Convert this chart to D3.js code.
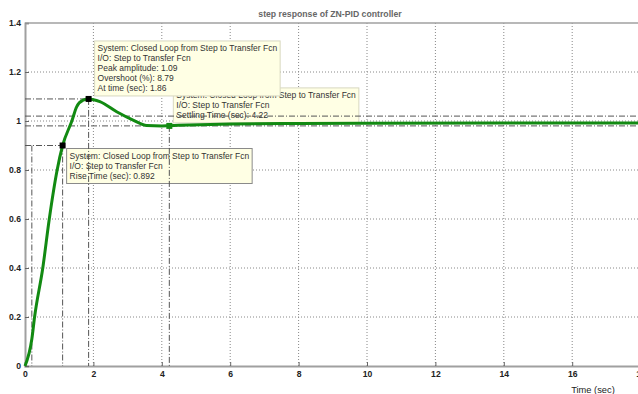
<!DOCTYPE html>
<html>
<head>
<meta charset="utf-8">
<script src="https://cdn.jsdelivr.net/npm/d3@7"></script>
<style>
  body { margin: 0; background: #fff; }
  text { font-family: "Liberation Sans", Arial, sans-serif; }
</style>
</head>
<body>
<script>
var width = 638, height = 394

// step response samples
var timeSec = [0, 0.2, 0.28, 0.52, 0.71, 0.94, 1.1, 1.37, 1.51, 1.7, 1.86, 2.19, 2.68, 3.16, 3.56, 4.0, 4.22, 4.8, 6, 8, 10, 14, 20]
var amplitude = [0, 0.11, 0.2, 0.4, 0.6, 0.8, 0.9, 1.0, 1.058, 1.085, 1.09, 1.079, 1.038, 1.004, 0.982, 0.98, 0.981, 0.984, 0.988, 0.99, 0.991, 0.992, 0.992]

var xTicks = [0, 2, 4, 6, 8, 10, 12, 14, 16, 18]
var yTicks = [0, 0.2, 0.4, 0.6, 0.8, 1, 1.2, 1.4]

// characteristics
var riseLow = 0.2, riseHigh = 1.1, riseLevel = 0.9
var peakTime = 1.86, peakAmp = 1.09
var settleTime = 4.22, settleAmp = 0.98, settleBand = [0.98, 1.02]

var peakTip = ["System: Closed Loop from Step to Transfer Fcn", "I/O: Step to Transfer Fcn", "Peak amplitude: 1.09", "Overshoot (%): 8.79", "At time (sec): 1.86"]
var settleTip = ["System: Closed Loop from Step to Transfer Fcn", "I/O: Step to Transfer Fcn", "Settling Time (sec): 4.22"]
var riseTip = ["System: Closed Loop from Step to Transfer Fcn", "I/O: Step to Transfer Fcn", "Rise Time (sec): 0.892"]

var svg = d3.select("body").append("svg")
  .attr("width", width)
  .attr("height", height)

var x = d3.scaleLinear().domain([0, 20]).range([25, 709])
var y = d3.scaleLinear().domain([0, 1.4]).range([366, 23])

//grid
svg.append("g").selectAll("line")
  .data(xTicks.slice(1))
  .enter().append("line")
  .attr("x1", function(d) { return x(d) }).attr("x2", function(d) { return x(d) })
  .attr("y1", y(0)).attr("y2", y(1.4))
  .attr("stroke", "#888").attr("stroke-dasharray", "1,2")

svg.append("g").selectAll("line")
  .data(yTicks.slice(1, -1))
  .enter().append("line")
  .attr("x1", x(0)).attr("x2", width)
  .attr("y1", function(d) { return y(d) }).attr("y2", function(d) { return y(d) })
  .attr("stroke", "#888").attr("stroke-dasharray", "1,2")

//axes
var xAxis = svg.append("g")
  .attr("transform", "translate(0," + y(0) + ")")
  .call(d3.axisBottom(x).tickValues(xTicks).tickSize(-4).tickPadding(5))
var yAxis = svg.append("g")
  .attr("transform", "translate(" + x(0) + ",0)")
  .call(d3.axisLeft(y).tickValues(yTicks).tickSize(-4).tickPadding(4).tickFormat(d3.format("~g")))

;[xAxis, yAxis].forEach(function(a) {
  a.select(".domain").attr("stroke", "#a0a0a0").attr("stroke-width", 2)
  a.selectAll(".tick line").attr("stroke", "#666")
  a.selectAll(".tick text").attr("font-size", "8.6px").attr("font-weight", "bold").attr("fill", "#222")
})

svg.append("line")
  .attr("x1", x(0)).attr("x2", width)
  .attr("y1", y(1.4)).attr("y2", y(1.4))
  .attr("stroke", "#a0a0a0").attr("stroke-width", 1.5)

svg.append("text")
  .attr("x", 330).attr("y", 17)
  .attr("text-anchor", "middle")
  .attr("font-size", "8.7px").attr("font-weight", "bold").attr("fill", "#666")
  .text("step response of ZN-PID controller")

svg.append("text")
  .attr("x", 593).attr("y", 393)
  .attr("text-anchor", "middle")
  .attr("font-size", "9.3px").attr("fill", "#222")
  .text("Time (sec)")

//data tips: anchor point, pixel offset, lines
function dataTip(t, v, dx, dy, lines, above, border) {
  var g = svg.append("g")
  var txt = g.selectAll("text").data(lines).enter().append("text")
    .attr("font-size", "8.5px").attr("fill", "#333")
    .text(function(d) { return d })
  var w = d3.max(txt.nodes(), function(n) { return n.getComputedTextLength() }) + 6
  var h = lines.length * 10 + 5
  var bx = x(t) + dx
  var by = above ? y(v) + dy - h : y(v) + dy
  g.insert("rect", "text")
    .attr("x", bx).attr("y", by).attr("width", w).attr("height", h)
    .attr("fill", "#ffffe4").attr("stroke", border)
  txt.attr("x", bx + 3).attr("y", function(d, i) { return by + 10 + i * 10 })
}

dataTip(riseHigh, riseLevel, 4, 3, riseTip, false, "#8a8a8a")
dataTip(settleTime, settleAmp, 4, -3, settleTip, true, "#d8d8c0")
dataTip(peakTime, peakAmp, 6, -3, peakTip, true, "#d8d8c0")

//characteristic lines (dash-dot)
var marks = svg.append("g")
  .attr("stroke", "#555").attr("stroke-dasharray", "6,2,1,2").attr("stroke-width", 1)

function seg(x1, y1, x2, y2) {
  marks.append("line").attr("x1", x1).attr("y1", y1).attr("x2", x2).attr("y2", y2)
}
seg(x(0), y(peakAmp), x(peakTime), y(peakAmp))
seg(x(peakTime), y(peakAmp), x(peakTime), y(0))
seg(x(0), y(riseLevel), x(riseHigh), y(riseLevel))
seg(x(riseHigh), y(riseLevel), x(riseHigh), y(0))
seg(x(riseLow), y(riseLevel), x(riseLow), y(0))
settleBand.forEach(function(b) { seg(x(0), y(b), width, y(b)) })
seg(x(settleTime), y(settleAmp), x(settleTime), y(0))

//response curve
var line = d3.line()
  .x(function(d, i) { return x(timeSec[i]) })
  .y(function(d) { return y(d) })
  .curve(d3.curveMonotoneX)

svg.append("path")
  .datum(amplitude)
  .attr("d", line)
  .attr("fill", "none")
  .attr("stroke", "#128a12")
  .attr("stroke-width", 3)

//markers
var pts = [[riseHigh, riseLevel, "#000"], [peakTime, peakAmp, "#000"], [settleTime, settleAmp, "#128a12"]]
svg.append("g").selectAll("rect")
  .data(pts)
  .enter().append("rect")
  .attr("x", function(d) { return x(d[0]) - 3 })
  .attr("y", function(d) { return y(d[1]) - 3 })
  .attr("width", 6).attr("height", 6)
  .attr("fill", function(d) { return d[2] })
</script>
</body>
</html>
